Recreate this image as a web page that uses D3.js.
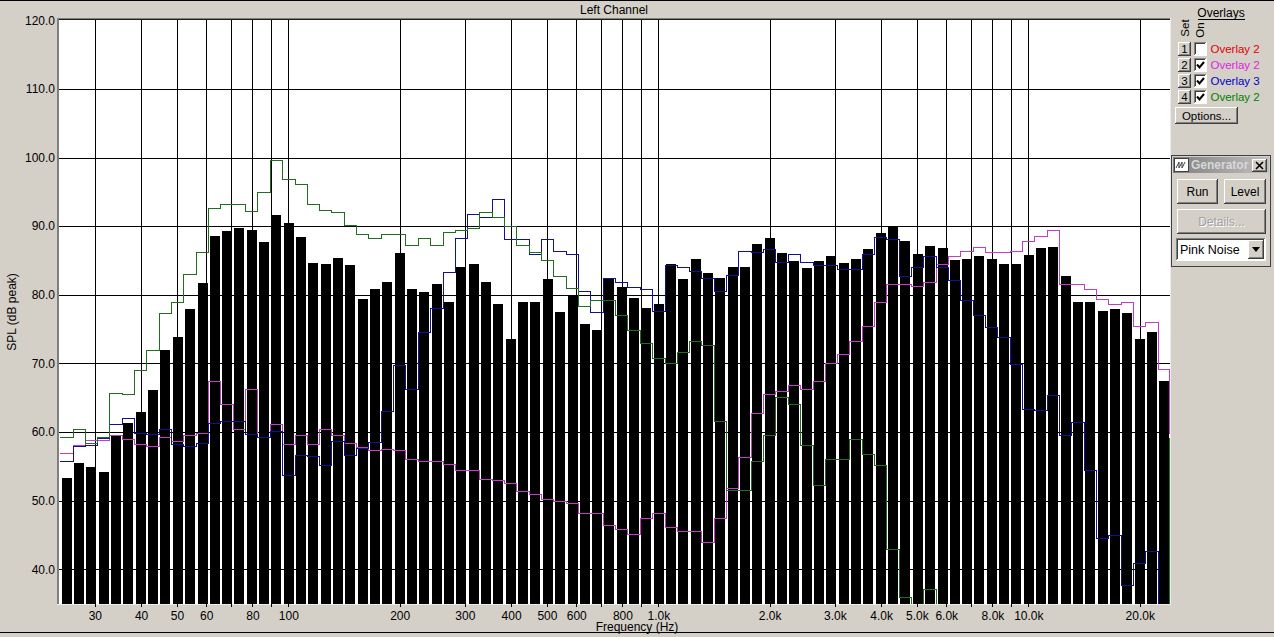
<!DOCTYPE html>
<html><head><meta charset="utf-8">
<script src="https://cdn.jsdelivr.net/npm/d3@7"></script>
<style>
html,body{margin:0;padding:0;background:#d4d0c8;}
svg{display:block;}
text{font-family:"Liberation Sans",Arial,sans-serif;}
</style></head>
<body>
<svg id="chart" width="1274" height="637"></svg>
<script>
// ---- data ----
const bandFreqs = [25.12,27.13,29.29,31.62,34.15,36.88,39.81,42.99,46.42,50.12,54.12,58.48,63.10,68.13,73.56,79.43,85.77,92.61,100.0,108.0,116.6,125.9,135.9,146.8,158.5,171.1,184.8,199.5,215.4,232.6,251.2,271.3,292.9,316.2,341.5,368.8,398.1,429.9,464.2,501.2,541.2,584.8,631.0,681.3,735.6,794.3,857.7,926.1,1000,1080,1166,1259,1359,1468,1585,1711,1848,1995,2154,2326,2512,2713,2929,3162,3415,3688,3981,4299,4642,5012,5412,5848,6310,6813,7356,7943,8577,9261,10000,10798,11659,12589,13594,14678,15849,17113,18478,19953,21544,23263];

const mainLevels = [53.3,55.5,54.9,54.1,59.6,61.3,62.9,66.1,72.0,73.8,77.9,81.7,88.5,89.3,89.7,89.4,87.7,91.6,90.4,88.4,84.6,84.5,85.3,84.3,79.4,80.8,81.8,86.1,80.9,80.4,81.5,78.9,84.0,84.5,81.8,78.6,73.6,79.0,79.0,82.3,77.5,79.8,75.7,74.9,82.3,81.2,79.5,78.0,78.6,84.5,82.3,85.2,83.1,82.4,84.1,84.0,87.4,88.2,86.1,84.9,83.9,84.9,85.6,84.6,85.2,86.6,89.0,89.9,87.9,85.9,87.1,86.8,85.0,85.2,85.6,85.2,84.5,84.5,85.8,86.8,86.9,82.8,78.9,79.0,77.7,77.9,77.3,73.5,74.5,67.4];

// overlay series (last entry = value at the right edge)
const overlayMagenta = [57.0,58.1,58.9,58.9,59.6,59.0,58.3,58.0,59.3,58.7,59.5,59.8,67.5,64.1,60.5,66.3,59.2,61.1,58.3,59.6,58.3,60.4,59.5,58.4,57.8,57.3,57.5,57.3,56.0,55.7,55.7,55.3,54.4,54.5,53.2,53.0,52.5,51.4,51.0,50.3,49.9,49.6,48.2,48.2,46.5,45.8,45.2,47.4,48.2,46.2,45.6,45.6,44.0,47.4,51.9,56.3,62.7,65.6,66.0,66.8,66.3,67.5,70.1,71.3,73.3,75.4,78.9,81.6,81.6,81.3,81.9,84.5,85.7,86.4,86.9,86.2,86.3,86.4,87.8,88.6,89.5,81.6,81.6,80.8,79.4,78.7,79.0,75.4,76.0,69.2,59.8];

const overlayBlue = [55.7,57.9,58.1,59.1,61.1,62.1,59.8,59.7,60.4,58.3,58.0,58.4,61.3,61.6,61.6,59.7,59.2,60.2,53.8,56.7,56.5,55.2,58.7,56.7,57.7,58.6,63.1,69.8,66.3,74.5,78.1,83.3,88.2,91.8,91.4,93.9,88.1,88.1,85.9,88.1,86.4,86.0,80.5,77.5,82.5,81.8,81.2,80.9,77.7,84.4,84.0,83.4,82.5,80.5,82.9,86.4,86.3,86.7,84.8,85.9,84.7,84.3,84.4,83.8,83.8,85.9,88.4,88.1,82.8,84.1,85.6,84.1,82.2,79.3,77.1,75.3,73.9,69.9,63.3,63.2,65.4,59.5,61.5,54.5,44.6,45.0,37.7,40.9,42.7,30.0,30.0];

const overlayGreen = [59.3,60.4,58.4,59.2,65.7,65.6,69.0,72.0,77.4,79.0,83.0,86.3,92.6,93.2,93.2,92.2,95.0,99.7,96.8,96.1,93.2,92.4,92.0,90.1,88.8,88.3,88.8,88.9,87.3,88.2,87.3,89.1,89.4,89.8,92.0,91.3,90.0,87.2,86.2,85.1,82.8,81.0,78.4,79.2,79.3,77.1,74.8,72.9,70.8,70.1,71.6,73.2,72.7,61.6,51.6,51.6,55.8,59.6,65.1,64.1,58.1,52.3,56.0,56.1,59.0,56.8,55.2,43.0,35.9,35.0,37.1,35.0,35.0,35.0,35.0,35.0,35.0,35.0,35.0,35.0,35.0,35.0,35.0,35.0,35.0,35.0,35.0,35.0,35.0,35.0,59.3];

const gridFreqs = [30,40,50,60,70,80,90,100,200,300,400,500,600,700,800,900,1000,2000,3000,4000,5000,6000,7000,8000,9000,10000,20000];
const xTickLabels = {30:"30",40:"40",50:"50",60:"60",80:"80",100:"100",200:"200",300:"300",400:"400",500:"500",600:"600",800:"800",1000:"1.0k",2000:"2.0k",3000:"3.0k",4000:"4.0k",5000:"5.0k",6000:"6.0k",8000:"8.0k",10000:"10.0k",20000:"20.0k"};
const yTicks = [40,50,60,70,80,90,100,110,120];

const legendNames = ["Overlay 2","Overlay 2","Overlay 3","Overlay 2"];
const legendColors = ["#e00000","#e020e0","#0000c0","#008000"];
const legendChecked = [false,true,true,true];

// ---- drawing ----
const svg = d3.select("#chart");
const L = 59, R = 1169, T = 20.3, B = 603.5;
const x = d3.scaleLog().domain([24, 24000]).range([L, R]);
const y = d3.scaleLinear().domain([35, 120]).range([B, T]);
const FONT = "Liberation Sans, Arial, sans-serif";

svg.append("rect").attr("width",1274).attr("height",637).attr("fill","#d4d0c8");
svg.append("line").attr("x1",0).attr("x2",1274).attr("y1",0.5).attr("y2",0.5).attr("stroke","#000");
svg.append("line").attr("x1",0).attr("x2",1274).attr("y1",632.5).attr("y2",632.5).attr("stroke","#000");

// plot background
svg.append("rect").attr("x",L).attr("y",20).attr("width",R-L+1).attr("height",B-20+0.5).attr("fill","#fff");

// grid
const grid = svg.append("g").attr("shape-rendering","crispEdges");
grid.selectAll("line.v").data(gridFreqs).join("line")
  .attr("x1",d=>Math.round(x(d))+0.5).attr("x2",d=>Math.round(x(d))+0.5)
  .attr("y1",20).attr("y2",B).attr("stroke","#000");
grid.selectAll("line.h").data(yTicks.filter(d=>d<120)).join("line")
  .attr("x1",L).attr("x2",R+1).attr("y1",d=>Math.round(y(d))+0.5).attr("y2",d=>Math.round(y(d))+0.5).attr("stroke","#000");

// bars
svg.append("g").attr("shape-rendering","crispEdges")
  .selectAll("rect").data(mainLevels).join("rect")
  .attr("x",(d,i)=>Math.round(x(bandFreqs[i])-4.6))
  .attr("width",10)
  .attr("y",d=>Math.round(y(d)))
  .attr("height",d=>Math.round(B)-Math.round(y(d)))
  .attr("fill","#000");

// overlays
svg.append("clipPath").attr("id","plotclip").append("rect")
  .attr("x",L).attr("y",19.5).attr("width",R-L+1).attr("height",B-19.5+1);
function stepPoints(vals){
  const pts = [[L, vals[0]]];
  for(let i=1;i<bandFreqs.length;i++){
    pts.push([x(Math.sqrt(bandFreqs[i-1]*bandFreqs[i])), vals[i]]);
  }
  pts.push([R-0.5, vals[bandFreqs.length-1]]);
  pts.push([R-0.5, vals[bandFreqs.length]]);
  return pts;
}
const stepLine = d3.line().x(d=>Math.round(d[0])+0.5).y(d=>Math.round(y(d[1]))+0.5).curve(d3.curveStepAfter);
const ov = svg.append("g").attr("clip-path","url(#plotclip)");
[[overlayMagenta,"#c63cc6"],[overlayBlue,"#10109a"],[overlayGreen,"#1f6f1f"]].forEach(([vals,col])=>{
  ov.append("path").attr("d",stepLine(stepPoints(vals))).attr("fill","none")
    .attr("stroke",col).attr("stroke-width",1).attr("shape-rendering","crispEdges");
});

// frame
const fr = svg.append("g").attr("shape-rendering","crispEdges");
fr.append("line").attr("x1",57).attr("x2",R+1).attr("y1",18.5).attr("y2",18.5).attr("stroke","#808080");
fr.append("line").attr("x1",58).attr("x2",R+1).attr("y1",19.5).attr("y2",19.5).attr("stroke","#202020");
fr.append("line").attr("x1",57.5).attr("x2",57.5).attr("y1",18).attr("y2",B+1).attr("stroke","#808080");
fr.append("line").attr("x1",58.5).attr("x2",58.5).attr("y1",19).attr("y2",B+1).attr("stroke","#808080");
fr.append("line").attr("x1",57).attr("x2",R+2).attr("y1",604.5).attr("y2",604.5).attr("stroke","#ececec");
fr.append("line").attr("x1",R+1.5).attr("x2",R+1.5).attr("y1",18).attr("y2",605).attr("stroke","#ececec");

// axes
const xAxis = d3.axisBottom(x).tickValues(gridFreqs).tickSize(3).tickPadding(4)
  .tickFormat(d=>xTickLabels[d]||"");
const gx = svg.append("g").attr("transform",`translate(0,${604})`).call(xAxis);
gx.select(".domain").remove();
gx.selectAll(".tick line").attr("stroke","#000").attr("shape-rendering","crispEdges");
gx.selectAll("text").attr("font-family",FONT).attr("font-size",12).attr("fill","#000");

const yAxis = d3.axisLeft(y).tickValues(yTicks).tickSize(0).tickPadding(4).tickFormat(d3.format(".1f"));
const gy = svg.append("g").attr("transform",`translate(${L},0)`).call(yAxis);
gy.select(".domain").remove();
gy.selectAll("text").attr("font-family",FONT).attr("font-size",12).attr("fill","#000");

svg.append("text").attr("x",614).attr("y",10).attr("text-anchor","middle").attr("dominant-baseline","central")
  .attr("font-size",12).text("Left Channel");
svg.append("text").attr("transform","translate(12,312) rotate(-90)").attr("text-anchor","middle")
  .attr("dominant-baseline","central").attr("font-size",12).text("SPL (dB peak)");
svg.append("text").attr("x",637).attr("y",627).attr("text-anchor","middle").attr("dominant-baseline","central")
  .attr("font-size",12).text("Frequency (Hz)");

// ---- right panel ----
function raised(g, bx, by, w, h){
  const b = g.append("g").attr("shape-rendering","crispEdges");
  b.append("rect").attr("x",bx).attr("y",by).attr("width",w).attr("height",h).attr("fill","#d4d0c8");
  b.append("path").attr("d",`M${bx+0.5},${by+h-1}V${by+0.5}H${bx+w-1}`).attr("stroke","#fff").attr("fill","none");
  b.append("path").attr("d",`M${bx+1},${by+h-1.5}H${bx+w-1.5}V${by+1}`).attr("stroke","#808080").attr("fill","none");
  b.append("path").attr("d",`M${bx},${by+h-0.5}H${bx+w-0.5}V${by}`).attr("stroke","#404040").attr("fill","none");
  return b;
}
function sunken(g, bx, by, w, h){
  const b = g.append("g").attr("shape-rendering","crispEdges");
  b.append("rect").attr("x",bx).attr("y",by).attr("width",w).attr("height",h).attr("fill","#fff");
  b.append("path").attr("d",`M${bx+0.5},${by+h-1}V${by+0.5}H${bx+w-1}`).attr("stroke","#808080").attr("fill","none");
  b.append("path").attr("d",`M${bx+1.5},${by+h-2}V${by+1.5}H${bx+w-2}`).attr("stroke","#404040").attr("fill","none");
  b.append("path").attr("d",`M${bx},${by+h-0.5}H${bx+w-0.5}V${by}`).attr("stroke","#fff").attr("fill","none");
  return b;
}
const panel = svg.append("g");
panel.append("text").attr("x",1221).attr("y",13).attr("text-anchor","middle").attr("dominant-baseline","central")
  .attr("font-size",12).text("Overlays");
panel.append("line").attr("x1",1198).attr("x2",1245).attr("y1",19.5).attr("y2",19.5).attr("stroke","#000").attr("shape-rendering","crispEdges");
panel.append("text").attr("transform","translate(1185,28) rotate(-90)").attr("text-anchor","middle")
  .attr("dominant-baseline","central").attr("font-size",11.5).text("Set");
panel.append("text").attr("transform","translate(1200,30) rotate(-90)").attr("text-anchor","middle")
  .attr("dominant-baseline","central").attr("font-size",11.5).text("On");

legendNames.forEach((name,i)=>{
  const y0 = 42 + 16*i;
  raised(panel,1178,y0,13,14);
  panel.append("text").attr("x",1184.5).attr("y",y0+7).attr("text-anchor","middle").attr("dominant-baseline","central")
    .attr("font-size",11.5).text(String(i+1));
  sunken(panel,1194,y0,13,14);
  if(legendChecked[i]){
    panel.append("path").attr("d",`M${1197},${y0+6.5}L${1199.5},${y0+9.5}L${1204},${y0+4}`)
      .attr("stroke","#000").attr("stroke-width",2).attr("fill","none");
  }
  panel.append("text").attr("x",1210.5).attr("y",y0+7).attr("dominant-baseline","central")
    .attr("font-size",11.5).attr("fill",legendColors[i]).text(name);
});
raised(panel,1175,107,63,17);
panel.append("text").attr("x",1206.5).attr("y",115.5).attr("text-anchor","middle").attr("dominant-baseline","central")
  .attr("font-size",11.5).text("Options...");

// Generator box
const gen = svg.append("g");
gen.append("rect").attr("x",1171.5).attr("y",155.5).attr("width",99).attr("height",111)
  .attr("fill","#d4d0c8").attr("stroke","#404040").attr("shape-rendering","crispEdges");
const grad = svg.append("defs").append("linearGradient").attr("id","tbar");
grad.append("stop").attr("offset","0%").attr("stop-color","#808080");
grad.append("stop").attr("offset","100%").attr("stop-color","#c0c0c0");
gen.append("rect").attr("x",1173).attr("y",157).attr("width",96).attr("height",16).attr("fill","url(#tbar)");
gen.append("rect").attr("x",1174.5).attr("y",158.5).attr("width",14).attr("height",13).attr("fill","#fff").attr("stroke","#404040").attr("shape-rendering","crispEdges");
gen.append("path").attr("d","M1176,168L1179,162L1179,168L1182,162L1182,168L1185,162")
  .attr("stroke","#404040").attr("fill","none").attr("stroke-width",1);
gen.append("text").attr("x",1191).attr("y",165).attr("dominant-baseline","central").attr("font-size",12)
  .attr("font-weight","bold").attr("fill","#d8d8d8").text("Generator");
raised(gen,1252,159,15,13);
gen.append("path").attr("d","M1256,162L1263,169M1263,162L1256,169").attr("stroke","#000").attr("stroke-width",1.6);
raised(gen,1177,179,41,25);
gen.append("text").attr("x",1197.5).attr("y",191.5).attr("text-anchor","middle").attr("dominant-baseline","central")
  .attr("font-size",12).text("Run");
raised(gen,1224,179,42,25);
gen.append("text").attr("x",1245).attr("y",191.5).attr("text-anchor","middle").attr("dominant-baseline","central")
  .attr("font-size",12).text("Level");
raised(gen,1177,209,89,25);
gen.append("text").attr("x",1222.5).attr("y",222.5).attr("text-anchor","middle").attr("dominant-baseline","central")
  .attr("font-size",12).attr("fill","#fff").text("Details...");
gen.append("text").attr("x",1221.5).attr("y",221.5).attr("text-anchor","middle").attr("dominant-baseline","central")
  .attr("font-size",12).attr("fill","#a0a0a0").text("Details...");
sunken(gen,1176,238,90,23);
gen.append("text").attr("x",1180).attr("y",249.5).attr("dominant-baseline","central").attr("font-size",12.5).text("Pink Noise");
raised(gen,1248,240,16,19);
gen.append("path").attr("d","M1252,247H1260L1256,252Z").attr("fill","#000");
</script>
</body></html>
